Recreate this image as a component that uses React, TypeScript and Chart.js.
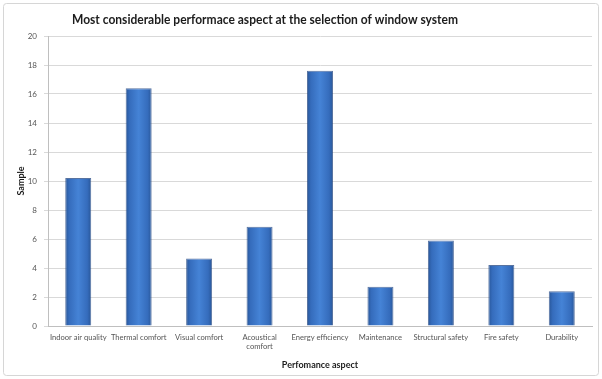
import React, { useEffect, useRef } from "react";
import { Chart, registerables } from "chart.js";

Chart.register(...registerables);

const chartTitle = "Most considerable performace aspect at the selection of window system";
const xAxisTitle = "Perfomance aspect";
const yAxisTitle = "Sample";

const categories: (string | string[])[] = [
  "Indoor air quality",
  "Thermal comfort",
  "Visual comfort",
  ["Acoustical", "comfort"],
  "Energy efficiency",
  "Maintenance",
  "Structural safety",
  "Fire safety",
  "Durability",
];

const sampleValues = [10.2, 16.4, 4.65, 6.85, 17.6, 2.7, 5.9, 4.2, 2.4];

const yMin = 0;
const yMax = 20;
const yStep = 2;

const BAR_PCT = 0.43;
const FONT = "Lato, 'Open Sans', sans-serif";
const TITLE_WIDTH = 386;

// Frame around the whole chart and a condensed bold title
const framePlugin = {
  id: "frameAndTitle",
  beforeDraw(chart: Chart) {
    const ctx = chart.ctx;
    ctx.save();
    ctx.fillStyle = "#ffffff";
    ctx.fillRect(0, 0, chart.width, chart.height);
    ctx.strokeStyle = "#d6d6d6";
    ctx.lineWidth = 1;
    ctx.beginPath();
    (ctx as any).roundRect(3.5, 3.5, chart.width - 7, chart.height - 7, 3);
    ctx.stroke();
    ctx.restore();
  },
  afterDraw(chart: Chart) {
    const ctx = chart.ctx;
    ctx.save();
    ctx.font = `bold 14px ${FONT}`;
    ctx.fillStyle = "#1c1c1c";
    ctx.textAlign = "center";
    ctx.textBaseline = "middle";
    const natural = ctx.measureText(chartTitle).width;
    const sx = Math.min(1, TITLE_WIDTH / natural);
    ctx.translate(265, 19);
    ctx.scale(sx, 1);
    ctx.fillText(chartTitle, 0, 0);
    ctx.restore();
  },
};

function barFill(context: any) {
  const chart = context.chart;
  const xs = chart.scales?.x;
  if (!xs || context.type !== "data") return "#3d78cc";
  const cx = xs.getPixelForValue(context.dataIndex);
  const w = (xs.width / categories.length) * BAR_PCT;
  if (!Number.isFinite(cx) || !Number.isFinite(w) || w <= 0) return "#3d78cc";
  const g = chart.ctx.createLinearGradient(cx - w / 2, 0, cx + w / 2, 0);
  g.addColorStop(0, "#285698");
  g.addColorStop(0.15, "#356cbc");
  g.addColorStop(0.5, "#4583d6");
  g.addColorStop(0.85, "#356cbc");
  g.addColorStop(1, "#285698");
  return g;
}

export default function App() {
  const canvasRef = useRef<HTMLCanvasElement | null>(null);

  useEffect(() => {
    document.body.style.margin = "0";
    const canvas = canvasRef.current;
    if (!canvas) return;
    const chart = new Chart(canvas, {
      type: "bar",
      data: {
        labels: categories,
        datasets: [
          {
            label: yAxisTitle,
            data: sampleValues,
            backgroundColor: barFill,
            borderColor: "rgba(32, 68, 128, 0.75)",
            borderWidth: 1,
            barPercentage: BAR_PCT,
            categoryPercentage: 1,
          },
        ],
      },
      options: {
        animation: false,
        responsive: false,
        maintainAspectRatio: false,
        layout: { padding: { top: 36, right: 10, bottom: 5, left: 12 } },
        plugins: {
          legend: { display: false },
          title: { display: false },
          tooltip: { enabled: false },
        },
        scales: {
          x: {
            grid: { display: false, drawTicks: false },
            border: { display: true, color: "#bfbfbf" },
            ticks: {
              padding: 7,
              color: "#555555",
              font: { family: FONT, size: 7.6 },
              maxRotation: 0,
              autoSkip: false,
            },
            title: {
              display: true,
              text: xAxisTitle,
              color: "#1c1c1c",
              font: { family: FONT, size: 9, weight: "bold" },
              padding: { top: 4, bottom: 4 },
            },
            afterFit(scale: any) {
              scale.height = 48;
            },
          },
          y: {
            min: yMin,
            max: yMax,
            grid: { color: "#d9d9d9", tickLength: 4, drawTicks: true },
            border: { display: true, color: "#bfbfbf" },
            ticks: {
              stepSize: yStep,
              padding: 7,
              color: "#555555",
              font: { family: FONT, size: 8 },
            },
            title: {
              display: true,
              text: yAxisTitle,
              color: "#1c1c1c",
              font: { family: FONT, size: 9, weight: "bold" },
              padding: { top: 4, bottom: 4 },
            },
            afterFit(scale: any) {
              scale.width = 36;
            },
          },
        },
      },
      plugins: [framePlugin],
    });
    return () => chart.destroy();
  }, []);

  return (
    <div style={{ width: 602, height: 379 }}>
      <canvas ref={canvasRef} width={602} height={379} style={{ display: "block" }} />
    </div>
  );
}
